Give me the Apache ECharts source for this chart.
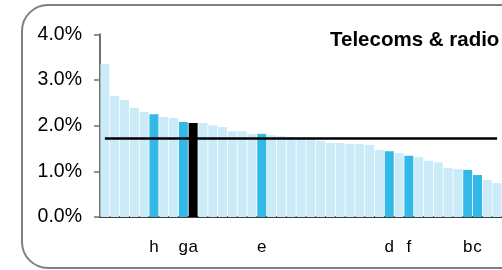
<!DOCTYPE html>
<html>
<head>
<meta charset="utf-8">
<script src="https://cdn.jsdelivr.net/npm/echarts@6/dist/echarts.min.js"></script>
<style>
html,body{margin:0;padding:0;background:#fff;overflow:hidden;}
#chart{width:502px;height:270px;}
</style>
</head>
<body>
<div id="chart"></div>
<script>
// Category labels (most bars unlabelled)
const categories = ['', '', '', '', '', 'h', '', '', 'g', 'a', '', '', '', '', '', '', 'e', '', '', '', '', '', '', '', '', '', '', '', '', 'd', '', 'f', '', '', '', '', '', 'b', 'c', '', ''];
// Values in percent
const values = [3.35, 2.65, 2.56, 2.39, 2.30, 2.25, 2.19, 2.17, 2.08, 2.06, 2.06, 2.01, 1.97, 1.88, 1.88, 1.82, 1.82, 1.79, 1.77, 1.75, 1.73, 1.71, 1.67, 1.62, 1.62, 1.60, 1.60, 1.58, 1.47, 1.44, 1.40, 1.34, 1.31, 1.23, 1.20, 1.07, 1.05, 1.03, 0.92, 0.81, 0.74];
const meanValue = 1.72;
const yTicks = [0, 1, 2, 3, 4];
const title = 'Telecoms & radio';

const LIGHT = '#CCEBF8', BLUE = '#33B8E8', BLACK = '#000000';
const barData = values.map((v, i) => ({
  value: v,
  itemStyle: { color: categories[i] === 'a' ? BLACK : (categories[i] ? BLUE : LIGHT) }
}));

const chart = echarts.init(document.getElementById('chart'), null, {renderer: 'canvas'});
chart.setOption({
  animation: false,
  backgroundColor: '#fff',
  title: {
    text: title, left: 330, top: 30, padding: 0,
    textStyle: { fontFamily: 'Liberation Sans', fontWeight: 'bold', fontSize: 20.5, color: '#000' }
  },
  graphic: [{
    type: 'rect', z: -1, silent: true,
    shape: { x: 22, y: 5, width: 640, height: 263, r: 26 },
    style: { fill: 'none', stroke: '#808080', lineWidth: 2 }
  }],
  grid: { left: 100, top: 34.3, width: values.length * 10, height: 182.7, containLabel: false },
  xAxis: {
    type: 'category', data: categories,
    axisLine: { show: true, lineStyle: { color: '#000', width: 1.5 } },
    axisTick: { show: false },
    axisLabel: { interval: 0, margin: 22, fontFamily: 'Liberation Sans', fontSize: 17, color: '#000' },
    splitLine: { show: false }
  },
  yAxis: {
    type: 'value', min: yTicks[0], max: yTicks[yTicks.length - 1], interval: 1,
    axisLine: { show: true, lineStyle: { color: '#707070', width: 2 } },
    axisTick: { show: true, length: 6, lineStyle: { color: '#707070', width: 1.5 } },
    axisLabel: { margin: 18, fontFamily: 'Liberation Sans', fontSize: 19.5, color: '#000',
      formatter: v => v.toFixed(1) + '%' },
    splitLine: { show: false }
  },
  series: [{
    type: 'bar', data: barData, barWidth: 9, z: 2,
    markLine: {
      silent: true, symbol: 'none', z: 5,
      label: { show: false },
      lineStyle: { color: '#000', width: 2.5, type: 'solid' },
      data: [[{ coord: [0, meanValue] }, { coord: [values.length - 1, meanValue] }]]
    }
  }]
});
</script>
</body>
</html>
